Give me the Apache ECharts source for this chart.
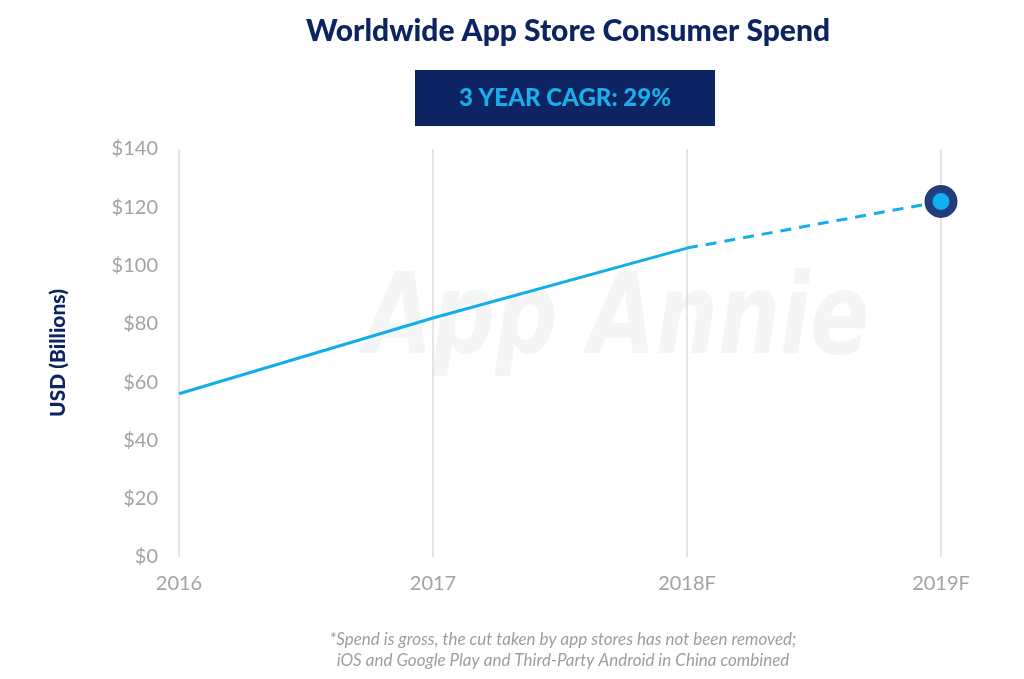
<!DOCTYPE html>
<html>
<head>
<meta charset="utf-8">
<script src="https://cdn.jsdelivr.net/npm/echarts@6/dist/echarts.min.js"></script>
<style>
  html, body { margin: 0; padding: 0; background: #ffffff; }
  #chart { width: 1024px; height: 679px; }
</style>
</head>
<body>
<div id="chart"></div>
<script>
const categories = ['2016', '2017', '2018F', '2019F'];
const actualValues = [56, 82, 106, null];
const forecastValues = [null, null, 106, 122];
const yTicks = [0, 20, 40, 60, 80, 100, 120, 140];

const navy = '#0d2462';
const blue = '#12aee9';
const gray = '#a3a3a3';

const chart = echarts.init(document.getElementById('chart'));
chart.setOption({
  backgroundColor: '#ffffff',
  animation: false,
  title: {
    text: 'Worldwide App Store Consumer Spend',
    left: 563, top: 11, textAlign: 'center',
    textStyle: { fontFamily: 'Lato', fontWeight: 900, fontSize: 30, color: navy }
  },
  grid: { left: 179, right: 83, top: 149, bottom: 122 },
  graphic: [
    { type: 'text', x: 365, y: 268, z: 0, silent: true, scaleX: 0.78,
      style: { text: 'App Annie', font: 'italic 700 112px "DejaVu Sans"', fill: '#f4f5f7' } },
    { type: 'rect', shape: { x: 415, y: 70, width: 300, height: 56 }, style: { fill: navy }, z: 10 },
    { type: 'text', x: 565, y: 98, z: 11,
      style: { text: '3 YEAR CAGR: 29%', fill: '#1aaeea', font: '900 24px Lato', textAlign: 'center', textVerticalAlign: 'middle' } },
    { type: 'text', x: 563, y: 640, z: 11,
      style: { text: '*Spend is gross, the cut taken by app stores has not been removed;', fill: '#9e9e9e', font: 'italic 17px Lato', textAlign: 'center', textVerticalAlign: 'middle' } },
    { type: 'text', x: 563, y: 661, z: 11,
      style: { text: 'iOS and Google Play and Third-Party Android in China combined', fill: '#9e9e9e', font: 'italic 17px Lato', textAlign: 'center', textVerticalAlign: 'middle' } }
  ],
  xAxis: {
    type: 'category',
    data: categories,
    boundaryGap: false,
    axisLine: { show: false },
    axisTick: { show: false },
    splitLine: { show: true, lineStyle: { color: '#dcdcdc', width: 1.5 } },
    axisLabel: { color: gray, fontSize: 20, fontFamily: 'Lato', margin: 17 }
  },
  yAxis: {
    type: 'value',
    min: yTicks[0], max: yTicks[yTicks.length - 1], interval: 20,
    name: 'USD (Billions)',
    nameLocation: 'middle',
    nameGap: 110,
    nameTextStyle: { color: navy, fontSize: 21, fontWeight: 900, fontFamily: 'Lato' },
    axisLine: { show: false },
    axisTick: { show: false },
    splitLine: { show: false },
    axisLabel: { color: gray, fontSize: 20, fontFamily: 'Lato', margin: 21, formatter: v => '$' + v }
  },
  series: [
    {
      type: 'line', data: actualValues, symbol: 'none', z: 5,
      lineStyle: { color: blue, width: 3 }
    },
    {
      type: 'line', data: forecastValues, z: 5,
      symbol: (val, p) => p.dataIndex === 3 ? 'circle' : 'none',
      symbolSize: 25,
      itemStyle: { color: '#0fb0ef', borderColor: '#223d7b', borderWidth: 8 },
      lineStyle: { color: blue, width: 3, type: [11, 8] }
    }
  ]
});
</script>
</body>
</html>
